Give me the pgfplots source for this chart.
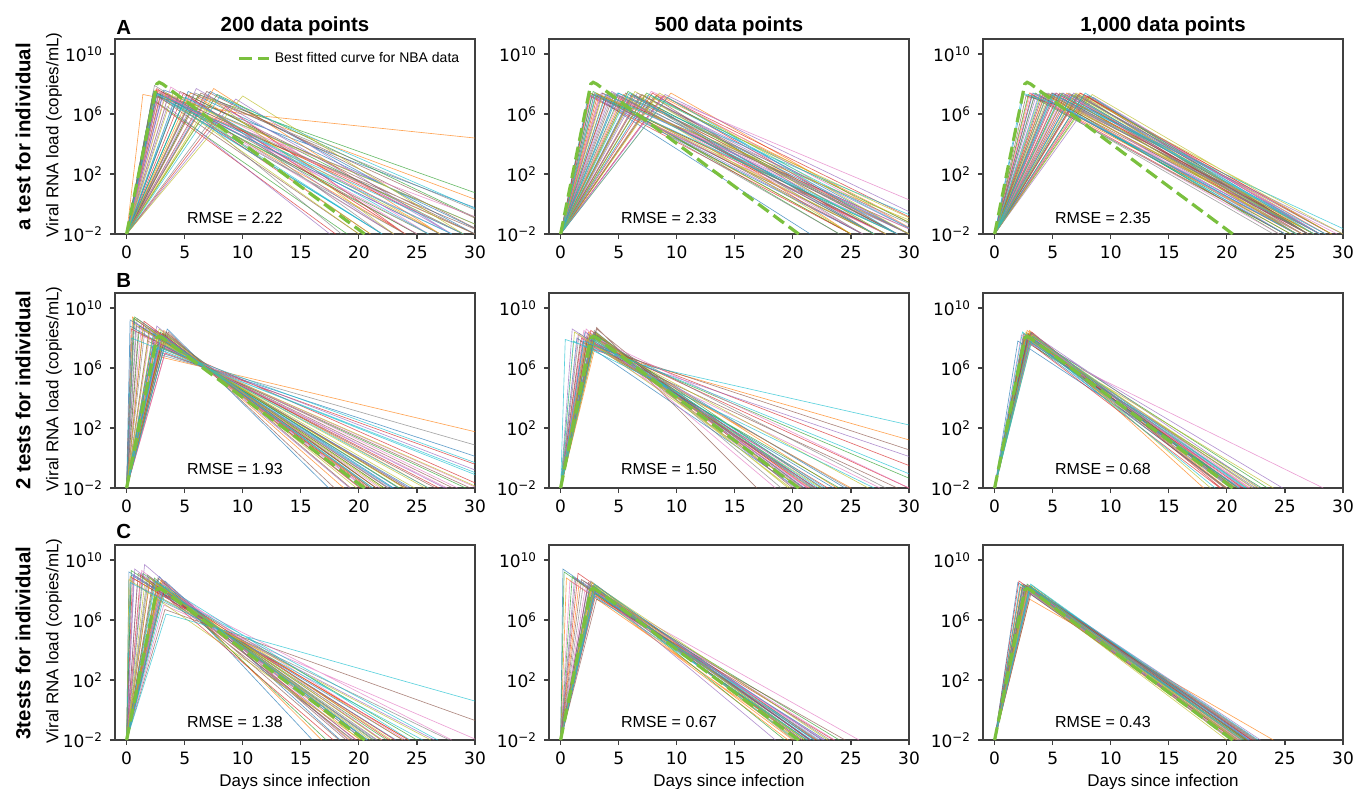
\documentclass[border=0pt]{standalone}
\usepackage{fontspec}
\setmainfont{Liberation Sans}
\newfontfamily\dejavu{DejaVu Sans}
\usepackage{pgfplots}
\pgfplotsset{compat=1.18}

\definecolor{c0}{HTML}{1F77B4}
\definecolor{c1}{HTML}{FF7F0E}
\definecolor{c2}{HTML}{2CA02C}
\definecolor{c3}{HTML}{D62728}
\definecolor{c4}{HTML}{9467BD}
\definecolor{c5}{HTML}{8C564B}
\definecolor{c6}{HTML}{E377C2}
\definecolor{c7}{HTML}{7F7F7F}
\definecolor{c8}{HTML}{BCBD22}
\definecolor{c9}{HTML}{17BECF}
\definecolor{fitgreen}{RGB}{122,192,62}
\definecolor{spine}{HTML}{404040}

\newcommand\tickfont{\dejavu\fontsize{8.5}{10}\selectfont}

\pgfplotsset{
  /pgfplots/loadpanel/.style={
    scale only axis, width=180pt, height=97.5pt, anchor=north west,
    xmin=-1, xmax=30, ymin=1e-2, ymax=1e11,
    xtick={0,5,10,15,20,25,30}, xticklabels={0,5,10,15,20,25,30},
    ytick={1e-2,1e2,1e6,1e10},
    yticklabels={10\textsuperscript{−2},10\textsuperscript{2},10\textsuperscript{6},10\textsuperscript{10}},
    yminorticks=false,
    tick pos=left, tick align=outside, major tick length=2.5pt,
    axis line style={draw=spine, line width=0.6pt},
    every tick/.append style={spine, line width=0.6pt},
    tick label style={font=\tickfont},
    unbounded coords=jump, clip=true,
  },
}
\tikzset{
  runline/.style={line width=0.32pt, opacity=0.7},
  fitline/.style={fitgreen, line width=1.6pt, dash pattern=on 6.5pt off 3pt},
}
\newcommand\fitcurve{\addplot[fitline] coordinates {(0,.01)(2.6,1e8)(2.8,1.3e8)(3.1,1e8)(20.5,.01)};}
\newcommand\rmse[2]{\node[font=\fontsize{8}{10}\selectfont] at (rel axis cs:0.333,#1) {RMSE = #2};}

\begin{document}
\begin{tikzpicture}
\path[use as bounding box] (0,0) rectangle (677pt,-394pt);

% ---------------- row A ----------------
\begin{axis}[ymode=log, loadpanel, at={(57.5pt,-19.5pt)},
  legend style={draw=none, fill=none, at={(0.985,0.9)}, anchor=east,
    font=\fontsize{7}{8}\selectfont},
  legend image code/.code={\draw[#1] (0pt,0pt) -- (15pt,0pt);}]
\addplot[runline,c0,forget plot] coordinates {(0,.01)(2.3,3.2e7)(22,.01)(0,nan)(0,.01)(4.4,1.3e7)(32,.01)(0,nan)(0,.01)(7.2,3.2e7)(30,.01)(0,nan)(0,.01)(3.2,4e7)(36,.01)(0,nan)(0,.01)(2.6,2.5e7)(27,.01)(0,nan)(0,.01)(5.3,3.2e7)(31,.01)};
\addplot[runline,c1,forget plot] coordinates {(0,.01)(1.4,2e7)(10,1e6)(30,2.5e4)(0,nan)(0,.01)(2.5,4e7)(24,.01)(0,nan)(0,.01)(7.5,5e7)(27,.01)(0,nan)(0,.01)(5.5,2.5e7)(38,.01)(0,nan)(0,.01)(2.9,2e7)(30,.01)(0,nan)(0,.01)(6.1,1.3e7)(27,.01)};
\addplot[runline,c2,forget plot] coordinates {(0,.01)(2.4,2e7)(26,.01)(0,nan)(0,.01)(5.2,2e7)(29,.01)(0,nan)(0,.01)(2.2,1e7)(19,.01)(0,nan)(0,.01)(6.2,2e7)(40,.01)(0,nan)(0,.01)(2.4,3.2e7)(25,.01)(0,nan)(0,.01)(7.8,2e7)(33,.01)};
\addplot[runline,c3,forget plot] coordinates {(0,.01)(2.6,5e7)(21,.01)(0,nan)(0,.01)(5.6,1e7)(24,.01)(0,nan)(0,.01)(2.5,6.3e6)(18,.01)(0,nan)(0,.01)(8.5,3.2e6)(24,.01)(0,nan)(0,.01)(2.7,4e7)(29,.01)(0,nan)(0,.01)(4.9,2.5e7)(24,.01)};
\addplot[runline,c4,forget plot] coordinates {(0,.01)(2.8,2.5e7)(28,.01)(0,nan)(0,.01)(6.0,5e7)(28,.01)(0,nan)(0,.01)(3.5,3.2e6)(17.5,.01)(0,nan)(0,.01)(5.8,8e6)(23,.01)(0,nan)(0,.01)(3.1,1.6e7)(27,.01)(0,nan)(0,.01)(9.4,1e7)(28,.01)};
\addplot[runline,c5,forget plot] coordinates {(0,.01)(3.0,3.2e7)(25,.01)(0,nan)(0,.01)(6.4,2.5e7)(33,.01)(0,nan)(0,.01)(4.6,3.2e7)(30,.01)(0,nan)(0,.01)(2.7,1.6e7)(31,.01)(0,nan)(0,.01)(2.3,2.5e7)(20,.01)(0,nan)(0,.01)(6.9,3.2e7)(31,.01)};
\addplot[runline,c6,forget plot] coordinates {(0,.01)(3.3,2e7)(23,.01)(0,nan)(0,.01)(6.8,1.6e7)(26,.01)(0,nan)(0,.01)(3.8,6.3e7)(25,.01)(0,nan)(0,.01)(2.9,1e7)(34,.01)(0,nan)(0,.01)(2.8,3.2e7)(26,.01)(0,nan)(0,.01)(4.3,2e7)(29,.01)};
\addplot[runline,c7,forget plot] coordinates {(0,.01)(3.6,1.6e7)(30,.01)(0,nan)(0,.01)(7.0,2e5)(18.5,.01)(0,nan)(0,.01)(2.4,8e7)(23,.01)(0,nan)(0,.01)(6.6,4e6)(22,.01)(0,nan)(0,.01)(2.5,1.6e7)(24,.01)(0,nan)(0,.01)(5.9,2.5e7)(35,.01)};
\addplot[runline,c8,forget plot] coordinates {(0,.01)(4.0,2.5e7)(27,.01)(0,nan)(0,.01)(10.0,1.6e7)(29,.01)(0,nan)(0,.01)(6.5,6.3e5)(21,.01)(0,nan)(0,.01)(5.0,1.6e6)(20,.01)(0,nan)(0,.01)(3.4,2.5e7)(32,.01)(0,nan)(0,.01)(7.3,1e7)(23,.01)};
\addplot[runline,c9,forget plot] coordinates {(0,.01)(4.2,6.3e6)(22,.01)(0,nan)(0,.01)(8.0,1.3e7)(35,.01)(0,nan)(0,.01)(2.5,2.5e7)(29,.01)(0,nan)(0,.01)(4.0,5e6)(28,.01)(0,nan)(0,.01)(2.6,2e7)(22,.01)(0,nan)(0,.01)(5.1,1.3e7)(26,.01)};
\fitcurve
\addlegendentry{Best fitted curve for NBA data}
\rmse{0.08}{2.22}
\end{axis}

\begin{axis}[ymode=log, loadpanel, at={(274.5pt,-19.5pt)}]
\addplot[runline,c0] coordinates {(0,.01)(2.4,2e7)(26,.01)(0,nan)(0,.01)(5.0,2.5e7)(28,.01)(0,nan)(0,.01)(8.2,1.6e7)(30,.01)(0,nan)(0,.01)(3.0,1.3e7)(21.5,.01)(0,nan)(0,.01)(2.7,2e7)(27,.01)(0,nan)(0,.01)(6.1,2e7)(30,.01)};
\addplot[runline,c1] coordinates {(0,.01)(2.6,2.5e7)(27,.01)(0,nan)(0,.01)(5.4,2e7)(30,.01)(0,nan)(0,.01)(9.5,2.5e7)(31,.01)(0,nan)(0,.01)(6.8,1.6e7)(25,.01)(0,nan)(0,.01)(3.3,1.6e7)(25,.01)(0,nan)(0,.01)(8.3,2e7)(32,.01)};
\addplot[runline,c2] coordinates {(0,.01)(2.8,3.2e7)(25,.01)(0,nan)(0,.01)(5.8,3.2e7)(29,.01)(0,nan)(0,.01)(7.4,2.5e7)(32,.01)(0,nan)(0,.01)(4.0,1.3e7)(24,.01)(0,nan)(0,.01)(2.5,2.5e7)(29,.01)(0,nan)(0,.01)(5.1,1.6e7)(27,.01)};
\addplot[runline,c3] coordinates {(0,.01)(3.2,2e7)(28,.01)(0,nan)(0,.01)(6.2,2e7)(27,.01)(0,nan)(0,.01)(8.8,1.6e7)(33,.01)(0,nan)(0,.01)(2.5,1.6e7)(25,.01)(0,nan)(0,.01)(4.1,2.5e7)(28,.01)(0,nan)(0,.01)(7.9,2.5e7)(29,.01)};
\addplot[runline,c4] coordinates {(0,.01)(3.5,2.5e7)(30,.01)(0,nan)(0,.01)(6.6,2.5e7)(31,.01)(0,nan)(0,.01)(9.0,2e7)(34,.01)(0,nan)(0,.01)(4.4,3.2e7)(27,.01)(0,nan)(0,.01)(2.9,2e7)(26,.01)(0,nan)(0,.01)(6.9,2e7)(30,.01)};
\addplot[runline,c5] coordinates {(0,.01)(3.8,1.6e7)(26,.01)(0,nan)(0,.01)(7.0,2e7)(29,.01)(0,nan)(0,.01)(4.6,2e7)(28,.01)(0,nan)(0,.01)(8.0,1.3e7)(27,.01)(0,nan)(0,.01)(3.6,2.5e7)(31,.01)(0,nan)(0,.01)(5.6,2.5e7)(29,.01)};
\addplot[runline,c6] coordinates {(0,.01)(4.2,2.5e7)(29,.01)(0,nan)(0,.01)(7.8,3.2e7)(37,.01)(0,nan)(0,.01)(5.2,1.6e7)(26,.01)(0,nan)(0,.01)(3.4,2e7)(31,.01)(0,nan)(0,.01)(2.6,1.6e7)(28,.01)(0,nan)(0,.01)(8.9,1.6e7)(31,.01)};
\addplot[runline,c7] coordinates {(0,.01)(4.8,2e7)(27,.01)(0,nan)(0,.01)(7.2,1.6e7)(28,.01)(0,nan)(0,.01)(2.9,2.5e7)(24,.01)(0,nan)(0,.01)(6.0,1e7)(32,.01)(0,nan)(0,.01)(4.5,2.5e7)(30,.01)(0,nan)(0,.01)(6.3,1.6e7)(26,.01)};
\addplot[runline,c8] coordinates {(0,.01)(5.6,1.3e7)(25,.01)(0,nan)(0,.01)(8.5,2.5e7)(30,.01)(0,nan)(0,.01)(3.6,1.6e7)(33,.01)(0,nan)(0,.01)(6.4,3.2e7)(28,.01)(0,nan)(0,.01)(3.1,2.5e7)(27,.01)(0,nan)(0,.01)(7.3,2e7)(33,.01)};
\addplot[runline,c9] coordinates {(0,.01)(3.0,2e7)(29,.01)(0,nan)(0,.01)(7.6,2e7)(31,.01)(0,nan)(0,.01)(4.9,2.5e7)(34,.01)(0,nan)(0,.01)(9.2,1.3e7)(29,.01)(0,nan)(0,.01)(3.9,2e7)(29,.01)(0,nan)(0,.01)(5.9,2.5e7)(27,.01)};
\fitcurve
\rmse{0.08}{2.33}
\end{axis}

\begin{axis}[ymode=log, loadpanel, at={(491.5pt,-19.5pt)}]
\addplot[runline,c0] coordinates {(0,.01)(2.5,2e7)(6,2.5e6)(25,.01)(0,nan)(0,.01)(5.0,2.5e7)(27,.01)(0,nan)(0,.01)(7.0,2e7)(28,.01)(0,nan)(0,.01)(4.0,1.6e7)(26,.01)(0,nan)(0,.01)(3.3,2.5e7)(26.5,.01)(0,nan)(0,.01)(6.1,2e7)(27,.01)};
\addplot[runline,c1] coordinates {(0,.01)(3.0,2.5e7)(26,.01)(0,nan)(0,.01)(5.5,2e7)(27.5,.01)(0,nan)(0,.01)(7.8,1.6e7)(29,.01)(0,nan)(0,.01)(6.2,2.5e7)(26,.01)(0,nan)(0,.01)(4.3,2e7)(25.5,.01)(0,nan)(0,.01)(7.3,2.5e7)(28.5,.01)};
\addplot[runline,c2] coordinates {(0,.01)(3.5,2.5e7)(25.5,.01)(0,nan)(0,.01)(5.8,2.5e7)(28,.01)(0,nan)(0,.01)(8.2,1.6e7)(27,.01)(0,nan)(0,.01)(4.5,2e7)(24.5,.01)(0,nan)(0,.01)(2.9,2e7)(25,.01)(0,nan)(0,.01)(6.7,2e7)(27,.01)};
\addplot[runline,c3] coordinates {(0,.01)(4.2,2.5e7)(27,.01)(0,nan)(0,.01)(6.5,2e7)(26.5,.01)(0,nan)(0,.01)(7.4,2.5e7)(29,.01)(0,nan)(0,.01)(3.2,2e7)(25,.01)(0,nan)(0,.01)(5.3,2.5e7)(27.5,.01)(0,nan)(0,.01)(8.0,1.6e7)(28,.01)};
\addplot[runline,c4] coordinates {(0,.01)(4.8,2e7)(26,.01)(0,nan)(0,.01)(6.8,2.5e7)(28.5,.01)(0,nan)(0,.01)(8.5,1.3e7)(28,.01)(0,nan)(0,.01)(5.2,2.5e7)(30,.01)(0,nan)(0,.01)(3.6,2e7)(26,.01)(0,nan)(0,.01)(5.9,2.5e7)(26.5,.01)};
\addplot[runline,c5] coordinates {(0,.01)(2.7,1.6e7)(6.5,2e6)(27,.01)(0,nan)(0,.01)(5.6,2.5e7)(26,.01)(0,nan)(0,.01)(7.2,2e7)(27,.01)(0,nan)(0,.01)(4.4,2.5e7)(28,.01)(0,nan)(0,.01)(4.9,2.5e7)(28,.01)(0,nan)(0,.01)(7.7,2e7)(27,.01)};
\addplot[runline,c6] coordinates {(0,.01)(3.8,2e7)(26.5,.01)(0,nan)(0,.01)(6.0,2e7)(29.5,.01)(0,nan)(0,.01)(8.0,2e7)(28,.01)(0,nan)(0,.01)(5.4,1.6e7)(25,.01)(0,nan)(0,.01)(3.1,2.5e7)(24.5,.01)(0,nan)(0,.01)(6.3,2e7)(28,.01)};
\addplot[runline,c7] coordinates {(0,.01)(4.6,2.5e7)(27.5,.01)(0,nan)(0,.01)(6.4,2.5e7)(27,.01)(0,nan)(0,.01)(7.6,1.6e7)(26,.01)(0,nan)(0,.01)(3.4,1.6e7)(24,.01)(0,nan)(0,.01)(5.1,2e7)(27,.01)(0,nan)(0,.01)(7.1,1.6e7)(29,.01)};
\addplot[runline,c8] coordinates {(0,.01)(5.8,2e7)(26,.01)(0,nan)(0,.01)(7.0,2.5e7)(30,.01)(0,nan)(0,.01)(4.0,2.5e7)(27.5,.01)(0,nan)(0,.01)(8.4,2e7)(29,.01)(0,nan)(0,.01)(4.7,2e7)(26.5,.01)(0,nan)(0,.01)(6.9,2e7)(27.5,.01)};
\addplot[runline,c9] coordinates {(0,.01)(2.4,2.5e7)(5.5,4e6)(26,.01)(0,nan)(0,.01)(6.6,1.6e7)(28,.01)(0,nan)(0,.01)(5.0,2e7)(31,.01)(0,nan)(0,.01)(7.8,2.5e7)(27.5,.01)(0,nan)(0,.01)(3.9,2.5e7)(25,.01)(0,nan)(0,.01)(5.7,2e7)(28.5,.01)};
\fitcurve
\rmse{0.08}{2.35}
\end{axis}

% ---------------- row B ----------------
\begin{axis}[ymode=log, loadpanel, at={(57.5pt,-146.5pt)}]
\addplot[runline,c0] coordinates {(0,.01)(0.3,1.6e9)(23.4,.01)(0,nan)(0,.01)(2.5,3.2e8)(21.0,.01)(0,nan)(0,.01)(2.2,1.6e7)(38.3,.01)(0,nan)(0,.01)(3.5,4e8)(17.4,.01)(0,nan)(0,.01)(0.3,6.3e8)(24.5,.01)(0,nan)(0,.01)(2.9,1.3e8)(23,.01)};
\addplot[runline,c1] coordinates {(0,.01)(0.5,1e9)(24,.01)(0,nan)(0,.01)(2.7,1.6e8)(22.2,.01)(0,nan)(0,.01)(2.0,8e6)(50.4,.01)(0,nan)(0,.01)(3.2,3.2e8)(18.7,.01)(0,nan)(0,.01)(0.5,2.5e9)(21,.01)(0,nan)(0,.01)(2.6,1e8)(26,.01)};
\addplot[runline,c2] coordinates {(0,.01)(0.6,2e9)(22.2,.01)(0,nan)(0,.01)(2.9,2.5e8)(20.2,.01)(0,nan)(0,.01)(3.0,2.5e7)(29.2,.01)(0,nan)(0,.01)(0.7,2.5e9)(21.5,.01)(0,nan)(0,.01)(1.1,6.3e8)(23.5,.01)(0,nan)(0,.01)(3.2,2e8)(21.5,.01)};
\addplot[runline,c3] coordinates {(0,.01)(0.4,4e8)(26.9,.01)(0,nan)(0,.01)(3.1,2e8)(20.1,.01)(0,nan)(0,.01)(3.3,1e7)(35.7,.01)(0,nan)(0,.01)(1.5,1.3e9)(20.8,.01)(0,nan)(0,.01)(2.4,3.2e8)(21.5,.01)(0,nan)(0,.01)(3.0,4e7)(31,.01)};
\addplot[runline,c4] coordinates {(0,.01)(0.8,6.3e8)(24.3,.01)(0,nan)(0,.01)(3.3,1.3e8)(20.6,.01)(0,nan)(0,.01)(2.8,4e7)(27.4,.01)(0,nan)(0,.01)(2.6,6.3e8)(19.2,.01)(0,nan)(0,.01)(0.6,1.3e9)(22.8,.01)(0,nan)(0,.01)(2.7,2.5e7)(34,.01)};
\addplot[runline,c5] coordinates {(0,.01)(1.0,2.5e8)(26.6,.01)(0,nan)(0,.01)(3.6,2.5e8)(17.9,.01)(0,nan)(0,.01)(1.8,6.3e7)(29.6,.01)(0,nan)(0,.01)(2.4,5e7)(28.1,.01)(0,nan)(0,.01)(1.9,2.5e8)(24,.01)(0,nan)(0,.01)(3.4,2.5e8)(19.3,.01)};
\addplot[runline,c6] coordinates {(0,.01)(1.3,1e9)(21.8,.01)(0,nan)(0,.01)(3.0,1e8)(22.5,.01)(0,nan)(0,.01)(3.4,1.6e7)(30.2,.01)(0,nan)(0,.01)(1.2,1.6e8)(27.6,.01)(0,nan)(0,.01)(2.1,5e8)(20.5,.01)(0,nan)(0,.01)(2.5,6.3e7)(28.5,.01)};
\addplot[runline,c7] coordinates {(0,.01)(1.6,5e8)(22.6,.01)(0,nan)(0,.01)(2.8,8e7)(24.2,.01)(0,nan)(0,.01)(2.4,1e7)(42.9,.01)(0,nan)(0,.01)(3.4,6.3e7)(22.5,.01)(0,nan)(0,.01)(0.9,2e9)(21.2,.01)(0,nan)(0,.01)(3.5,1.6e8)(21,.01)};
\addplot[runline,c8] coordinates {(0,.01)(2.0,4e8)(22.0,.01)(0,nan)(0,.01)(2.5,3.2e7)(30.4,.01)(0,nan)(0,.01)(3.1,5e7)(24.8,.01)(0,nan)(0,.01)(2.2,1e8)(25.7,.01)(0,nan)(0,.01)(2.8,4e8)(19.8,.01)(0,nan)(0,.01)(1.4,4e8)(23.9,.01)};
\addplot[runline,c9] coordinates {(0,.01)(2.3,2e8)(22.9,.01)(0,nan)(0,.01)(2.6,2e7)(33.4,.01)(0,nan)(0,.01)(0.4,1e8)(32.9,.01)(0,nan)(0,.01)(3.3,3.2e7)(26.0,.01)(0,nan)(0,.01)(3.0,1.6e8)(21.2,.01)(0,nan)(0,.01)(2.3,3.2e7)(36,.01)};
\fitcurve
\rmse{0.10}{1.93}
\end{axis}

\begin{axis}[ymode=log, loadpanel, at={(274.5pt,-146.5pt)}]
\addplot[runline,c0] coordinates {(0,.01)(2.8,2e8)(21.0,.01)(0,nan)(0,.01)(2.6,5e7)(23.5,.01)(0,nan)(0,.01)(1.4,1e8)(20.4,.01)(0,nan)(0,.01)(2.1,2.5e8)(24.5,.01)(0,nan)(0,.01)(2.7,1.3e8)(21.6,.01)};
\addplot[runline,c1] coordinates {(0,.01)(2.5,1.3e8)(21.5,.01)(0,nan)(0,.01)(3.0,3.2e7)(25.0,.01)(0,nan)(0,.01)(2.0,2.5e7)(44.5,.01)(0,nan)(0,.01)(2.9,1.3e8)(23.8,.01)(0,nan)(0,.01)(2.4,2.5e8)(20.6,.01)};
\addplot[runline,c2] coordinates {(0,.01)(3.0,2.5e8)(20.5,.01)(0,nan)(0,.01)(2.4,4e7)(24.0,.01)(0,nan)(0,.01)(2.7,4e7)(32,.01)(0,nan)(0,.01)(3.1,1.6e8)(22.5,.01)(0,nan)(0,.01)(3.0,1.6e8)(21.9,.01)};
\addplot[runline,c3] coordinates {(0,.01)(2.3,1e8)(22.0,.01)(0,nan)(0,.01)(1.8,1e8)(23.0,.01)(0,nan)(0,.01)(2.3,6.3e7)(35,.01)(0,nan)(0,.01)(2.6,3.2e8)(21.3,.01)(0,nan)(0,.01)(2.8,5e7)(30,.01)};
\addplot[runline,c4] coordinates {(0,.01)(2.7,1.6e8)(20.8,.01)(0,nan)(0,.01)(1.0,4e8)(22.0,.01)(0,nan)(0,.01)(2.6,2e7)(38,.01)(0,nan)(0,.01)(2.3,2e8)(20.2,.01)(0,nan)(0,.01)(2.2,1.3e8)(22.6,.01)};
\addplot[runline,c5] coordinates {(0,.01)(3.1,4e8)(20.0,.01)(0,nan)(0,.01)(3.1,5e8)(16.9,.01)(0,nan)(0,.01)(1.9,5e7)(40,.01)(0,nan)(0,.01)(1.7,6.3e7)(29,.01)(0,nan)(0,.01)(2.9,2.5e8)(20.9,.01)};
\addplot[runline,c6] coordinates {(0,.01)(2.0,3.2e8)(21.2,.01)(0,nan)(0,.01)(2.2,4e8)(18.5,.01)(0,nan)(0,.01)(3.0,1e8)(30,.01)(0,nan)(0,.01)(2.8,2.5e7)(27.5,.01)(0,nan)(0,.01)(1.5,1.6e8)(21.4,.01)};
\addplot[runline,c7] coordinates {(0,.01)(1.6,2e8)(21.8,.01)(0,nan)(0,.01)(2.9,3.2e8)(19.0,.01)(0,nan)(0,.01)(2.4,1.6e8)(28,.01)(0,nan)(0,.01)(3.0,2e8)(21.7,.01)(0,nan)(0,.01)(2.6,8e7)(24.8,.01)};
\addplot[runline,c8] coordinates {(0,.01)(1.2,2.5e8)(22.4,.01)(0,nan)(0,.01)(2.5,2e8)(19.8,.01)(0,nan)(0,.01)(2.8,8e7)(26.5,.01)(0,nan)(0,.01)(2.2,8e7)(20.7,.01)(0,nan)(0,.01)(3.1,2e8)(19.6,.01)};
\addplot[runline,c9] coordinates {(0,.01)(2.9,8e7)(22.8,.01)(0,nan)(0,.01)(0.4,8e7)(7.1,1.6e6)(30,1.6e2)(0,nan)(0,.01)(1.1,6.3e7)(27,.01)(0,nan)(0,.01)(2.5,1e8)(22.2,.01)(0,nan)(0,.01)(2.0,6.3e7)(33,.01)};
\fitcurve
\rmse{0.10}{1.50}
\end{axis}

\begin{axis}[ymode=log, loadpanel, at={(491.5pt,-146.5pt)}]
\addplot[runline,c0] coordinates {(0,.01)(2.8,1.6e8)(20.5,.01)(0,nan)(0,.01)(2.0,6.3e7)(21.2,.01)(0,nan)(0,.01)(2.5,1e8)(20.0,.01)(0,nan)(0,.01)(2.9,1.6e8)(21.0,.01)};
\addplot[runline,c1] coordinates {(0,.01)(3.0,2e8)(20.0,.01)(0,nan)(0,.01)(3.0,3.2e8)(18.0,.01)(0,nan)(0,.01)(2.8,3.2e8)(20.9,.01)(0,nan)(0,.01)(2.7,1.3e8)(21.8,.01)};
\addplot[runline,c2] coordinates {(0,.01)(2.6,1.3e8)(21.0,.01)(0,nan)(0,.01)(2.8,5e7)(23.0,.01)(0,nan)(0,.01)(3.0,1.6e8)(23.5,.01)(0,nan)(0,.01)(3.1,2e8)(20.7,.01)};
\addplot[runline,c3] coordinates {(0,.01)(3.2,2.5e8)(19.5,.01)(0,nan)(0,.01)(2.9,2e8)(21.3,.01)(0,nan)(0,.01)(2.6,8e7)(19.4,.01)(0,nan)(0,.01)(2.6,1e8)(21.4,.01)};
\addplot[runline,c4] coordinates {(0,.01)(2.9,1e8)(21.5,.01)(0,nan)(0,.01)(3.2,1e8)(24.8,.01)(0,nan)(0,.01)(3.2,2e8)(22.8,.01)(0,nan)(0,.01)(3.0,1.3e8)(22.3,.01)};
\addplot[runline,c5] coordinates {(0,.01)(2.5,2e8)(20.8,.01)(0,nan)(0,.01)(2.6,1.6e8)(19.8,.01)(0,nan)(0,.01)(2.9,1.3e8)(20.6,.01)(0,nan)(0,.01)(2.8,2e8)(19.9,.01)};
\addplot[runline,c6] coordinates {(0,.01)(3.1,1.3e8)(22.0,.01)(0,nan)(0,.01)(3.0,4e7)(28.3,.01)(0,nan)(0,.01)(2.3,1.6e8)(21.9,.01)(0,nan)(0,.01)(3.2,1.6e8)(21.1,.01)};
\addplot[runline,c7] coordinates {(0,.01)(2.7,8e7)(22.5,.01)(0,nan)(0,.01)(3.1,8e7)(20.3,.01)(0,nan)(0,.01)(3.1,2.5e8)(20.4,.01)(0,nan)(0,.01)(2.5,1.3e8)(20.4,.01)};
\addplot[runline,c8] coordinates {(0,.01)(3.3,1.6e8)(18.6,.01)(0,nan)(0,.01)(2.7,2.5e8)(22.2,.01)(0,nan)(0,.01)(2.7,1e8)(24.0,.01)(0,nan)(0,.01)(3.0,1e8)(22.7,.01)};
\addplot[runline,c9] coordinates {(0,.01)(2.4,2.5e8)(19.0,.01)(0,nan)(0,.01)(3.3,1.3e8)(21.7,.01)(0,nan)(0,.01)(3.0,6.3e7)(21.0,.01)(0,nan)(0,.01)(2.8,1.6e8)(21.6,.01)};
\fitcurve
\rmse{0.10}{0.68}
\end{axis}

% ---------------- row C ----------------
\begin{axis}[ymode=log, loadpanel, at={(57.5pt,-272.5pt)}]
\addplot[runline,c0] coordinates {(0,.01)(0.2,1.6e9)(23.2,.01)(0,nan)(0,.01)(2.8,2.5e8)(20.8,.01)(0,nan)(0,.01)(2.8,8e8)(16.0,.01)(0,nan)(0,.01)(3.3,4e8)(18.4,.01)(0,nan)(0,.01)(0.4,1e9)(23.8,.01)};
\addplot[runline,c1] coordinates {(0,.01)(0.3,8e8)(24.3,.01)(0,nan)(0,.01)(3.0,5e8)(19.2,.01)(0,nan)(0,.01)(3.0,4e8)(16.8,.01)(0,nan)(0,.01)(2.6,1.6e8)(23.8,.01)(0,nan)(0,.01)(2.9,3.2e8)(20.1,.01)};
\addplot[runline,c2] coordinates {(0,.01)(0.4,2e9)(22.4,.01)(0,nan)(0,.01)(3.3,1.6e8)(20.4,.01)(0,nan)(0,.01)(2.4,6.3e8)(17.2,.01)(0,nan)(0,.01)(3.0,1e8)(25.0,.01)(0,nan)(0,.01)(1.4,1.3e9)(21.3,.01)};
\addplot[runline,c3] coordinates {(0,.01)(0.5,6.3e8)(24.3,.01)(0,nan)(0,.01)(2.7,1e8)(23.1,.01)(0,nan)(0,.01)(1.2,1e9)(17.8,.01)(0,nan)(0,.01)(2.0,4e8)(19.8,.01)(0,nan)(0,.01)(3.2,1.3e8)(22.6,.01)};
\addplot[runline,c4] coordinates {(0,.01)(1.55,5e9)(19.1,.01)(0,nan)(0,.01)(3.1,3.2e8)(19.7,.01)(0,nan)(0,.01)(0.6,1e9)(21.5,.01)(0,nan)(0,.01)(0.9,2e8)(26.5,.01)(0,nan)(0,.01)(0.7,2.5e9)(20.5,.01)};
\addplot[runline,c5] coordinates {(0,.01)(1.0,1.3e9)(22.0,.01)(0,nan)(0,.01)(3.3,5e6)(34.7,.01)(0,nan)(0,.01)(2.2,2e8)(19.5,.01)(0,nan)(0,.01)(2.7,6.3e8)(18.9,.01)(0,nan)(0,.01)(2.3,5e8)(18.3,.01)};
\addplot[runline,c6] coordinates {(0,.01)(1.3,2e9)(20.7,.01)(0,nan)(0,.01)(3.2,1e7)(30.2,.01)(0,nan)(0,.01)(3.2,2.5e8)(22.0,.01)(0,nan)(0,.01)(3.1,8e7)(28.0,.01)(0,nan)(0,.01)(3.0,1.6e8)(24.0,.01)};
\addplot[runline,c7] coordinates {(0,.01)(1.8,1e9)(20.7,.01)(0,nan)(0,.01)(2.9,2e7)(27.8,.01)(0,nan)(0,.01)(2.9,1.3e8)(21.6,.01)(0,nan)(0,.01)(2.4,3.2e8)(21.2,.01)(0,nan)(0,.01)(1.9,8e8)(19.4,.01)};
\addplot[runline,c8] coordinates {(0,.01)(2.0,6.3e8)(21.0,.01)(0,nan)(0,.01)(2.6,4e7)(26.2,.01)(0,nan)(0,.01)(1.6,5e8)(22.8,.01)(0,nan)(0,.01)(0.2,5e8)(20.2,.01)(0,nan)(0,.01)(2.6,2.5e8)(21.9,.01)};
\addplot[runline,c9] coordinates {(0,.01)(2.5,4e8)(20.7,.01)(0,nan)(0,.01)(3.4,2.5e6)(41.9,.01)(0,nan)(0,.01)(0.3,3.2e8)(25.5,.01)(0,nan)(0,.01)(3.2,2e8)(24.4,.01)(0,nan)(0,.01)(3.3,6.3e7)(26.8,.01)};
\fitcurve
\rmse{0.093}{1.38}
\end{axis}

\begin{axis}[ymode=log, loadpanel, at={(274.5pt,-272.5pt)}]
\addplot[runline,c0] coordinates {(0,.01)(0.2,2.5e9)(21.5,.01)(0,nan)(0,.01)(3.0,1.3e8)(22.5,.01)(0,nan)(0,.01)(2.8,6.3e7)(22.8,.01)(0,nan)(0,.01)(2.6,2e8)(21.6,.01)};
\addplot[runline,c1] coordinates {(0,.01)(0.5,6.3e8)(20.5,.01)(0,nan)(0,.01)(2.6,1e8)(20.0,.01)(0,nan)(0,.01)(1.6,3.2e8)(19.6,.01)(0,nan)(0,.01)(2.9,1.6e8)(22.1,.01)};
\addplot[runline,c2] coordinates {(0,.01)(1.0,8e8)(21.0,.01)(0,nan)(0,.01)(2.8,2e8)(19.3,.01)(0,nan)(0,.01)(2.5,1.3e8)(24.0,.01)(0,nan)(0,.01)(0.3,1.6e9)(21.2,.01)};
\addplot[runline,c3] coordinates {(0,.01)(1.5,1.3e9)(22.0,.01)(0,nan)(0,.01)(3.0,4e7)(23.5,.01)(0,nan)(0,.01)(3.1,2e8)(21.4,.01)(0,nan)(0,.01)(2.8,1.3e8)(20.8,.01)};
\addplot[runline,c4] coordinates {(0,.01)(1.2,6.3e8)(20.8,.01)(0,nan)(0,.01)(2.4,2.5e8)(18.5,.01)(0,nan)(0,.01)(2.3,1.6e8)(22.6,.01)(0,nan)(0,.01)(3.0,1e8)(21.5,.01)};
\addplot[runline,c5] coordinates {(0,.01)(1.8,5e8)(21.5,.01)(0,nan)(0,.01)(3.1,2.5e7)(24.5,.01)(0,nan)(0,.01)(2.9,1e8)(21.9,.01)(0,nan)(0,.01)(2.4,3.2e8)(20.6,.01)};
\addplot[runline,c6] coordinates {(0,.01)(2.2,3.2e8)(22.3,.01)(0,nan)(0,.01)(2.9,8e7)(25.7,.01)(0,nan)(0,.01)(0.8,4e8)(22.7,.01)(0,nan)(0,.01)(2.7,1e8)(23.6,.01)};
\addplot[runline,c7] coordinates {(0,.01)(2.5,2e8)(21.2,.01)(0,nan)(0,.01)(2.0,4e8)(23.2,.01)(0,nan)(0,.01)(2.6,4e8)(20.1,.01)(0,nan)(0,.01)(1.3,5e8)(21.9,.01)};
\addplot[runline,c8] coordinates {(0,.01)(2.7,1.6e8)(20.6,.01)(0,nan)(0,.01)(2.7,3.2e8)(21.0,.01)(0,nan)(0,.01)(3.0,2e8)(23.0,.01)(0,nan)(0,.01)(2.9,2e8)(20.2,.01)};
\addplot[runline,c9] coordinates {(0,.01)(2.9,2.5e8)(21.8,.01)(0,nan)(0,.01)(3.0,1.6e8)(20.3,.01)(0,nan)(0,.01)(2.7,5e7)(21.3,.01)(0,nan)(0,.01)(3.0,6.3e7)(22.2,.01)};
\fitcurve
\rmse{0.093}{0.67}
\end{axis}

\begin{axis}[ymode=log, loadpanel, at={(491.5pt,-272.5pt)}]
\addplot[runline,c0] coordinates {(0,.01)(2.0,3.2e8)(21.0,.01)(0,nan)(0,.01)(2.4,1.3e8)(20.9,.01)(0,nan)(0,.01)(2.5,2.5e8)(22.1,.01)(0,nan)(0,.01)(2.7,1.6e8)(21.3,.01)};
\addplot[runline,c1] coordinates {(0,.01)(2.3,2.5e8)(21.5,.01)(0,nan)(0,.01)(3.0,2.5e7)(24.0,.01)(0,nan)(0,.01)(2.8,1e8)(20.4,.01)(0,nan)(0,.01)(2.9,1.3e8)(21.7,.01)};
\addplot[runline,c2] coordinates {(0,.01)(2.6,2e8)(21.2,.01)(0,nan)(0,.01)(2.8,2.5e8)(21.6,.01)(0,nan)(0,.01)(3.2,2e8)(21.7,.01)(0,nan)(0,.01)(2.4,2e8)(20.5,.01)};
\addplot[runline,c3] coordinates {(0,.01)(2.8,1.6e8)(21.8,.01)(0,nan)(0,.01)(3.0,2e8)(22.2,.01)(0,nan)(0,.01)(2.1,4e8)(20.7,.01)(0,nan)(0,.01)(3.0,1.6e8)(22.1,.01)};
\addplot[runline,c4] coordinates {(0,.01)(3.0,1.3e8)(22.0,.01)(0,nan)(0,.01)(2.6,1e8)(21.9,.01)(0,nan)(0,.01)(2.9,2e8)(22.9,.01)(0,nan)(0,.01)(2.6,1.3e8)(21.0,.01)};
\addplot[runline,c5] coordinates {(0,.01)(3.2,1e8)(22.4,.01)(0,nan)(0,.01)(2.2,1.6e8)(20.8,.01)(0,nan)(0,.01)(2.6,1.6e8)(21.5,.01)(0,nan)(0,.01)(2.8,2e8)(22.6,.01)};
\addplot[runline,c6] coordinates {(0,.01)(2.5,1.6e8)(20.6,.01)(0,nan)(0,.01)(2.9,1.6e8)(21.1,.01)(0,nan)(0,.01)(3.0,1e8)(20.9,.01)(0,nan)(0,.01)(3.1,1e8)(21.2,.01)};
\addplot[runline,c7] coordinates {(0,.01)(2.7,2e8)(20.3,.01)(0,nan)(0,.01)(3.1,1.3e8)(22.5,.01)(0,nan)(0,.01)(2.4,2e8)(22.3,.01)(0,nan)(0,.01)(2.5,1.6e8)(21.8,.01)};
\addplot[runline,c8] coordinates {(0,.01)(2.9,1e8)(21.3,.01)(0,nan)(0,.01)(2.7,1.3e8)(20.0,.01)(0,nan)(0,.01)(2.8,1.3e8)(21.0,.01)(0,nan)(0,.01)(3.0,2e8)(20.8,.01)};
\addplot[runline,c9] coordinates {(0,.01)(3.1,1.6e8)(22.7,.01)(0,nan)(0,.01)(3.0,1.6e8)(21.4,.01)(0,nan)(0,.01)(3.1,2.5e8)(21.9,.01)(0,nan)(0,.01)(2.2,2.5e8)(21.4,.01)};
\fitcurve
\rmse{0.093}{0.43}
\end{axis}

% ---------------- titles and labels ----------------
\begin{scope}[font=\bfseries\fontsize{10.2}{12}\selectfont]
\node at (147.5pt,-13pt) {200 data points};
\node at (364.5pt,-13pt) {500 data points};
\node at (581.5pt,-13pt) {1,000 data points};
\node[anchor=west, inner sep=0pt] at (58pt,-13.5pt) {A};
\node[anchor=west, inner sep=0pt] at (58pt,-140pt) {B};
\node[anchor=west, inner sep=0pt] at (58pt,-265.5pt) {C};
\node[rotate=90] at (11.5pt,-68.25pt) {a test for individual};
\node[rotate=90] at (11.5pt,-195.25pt) {2 tests for individual};
\node[rotate=90] at (11.5pt,-321.5pt) {3tests for individual};
\end{scope}
\begin{scope}[font=\fontsize{8.5}{10}\selectfont]
\node[rotate=90] at (27pt,-67.5pt) {Viral RNA load (copies/mL)};
\node[rotate=90] at (27pt,-194.5pt) {Viral RNA load (copies/mL)};
\node[rotate=90] at (27pt,-320.5pt) {Viral RNA load (copies/mL)};
\node[anchor=base] at (147.5pt,-393.3pt) {Days since infection};
\node[anchor=base] at (364.5pt,-393.3pt) {Days since infection};
\node[anchor=base] at (581.5pt,-393.3pt) {Days since infection};
\end{scope}
\end{tikzpicture}
\end{document}
